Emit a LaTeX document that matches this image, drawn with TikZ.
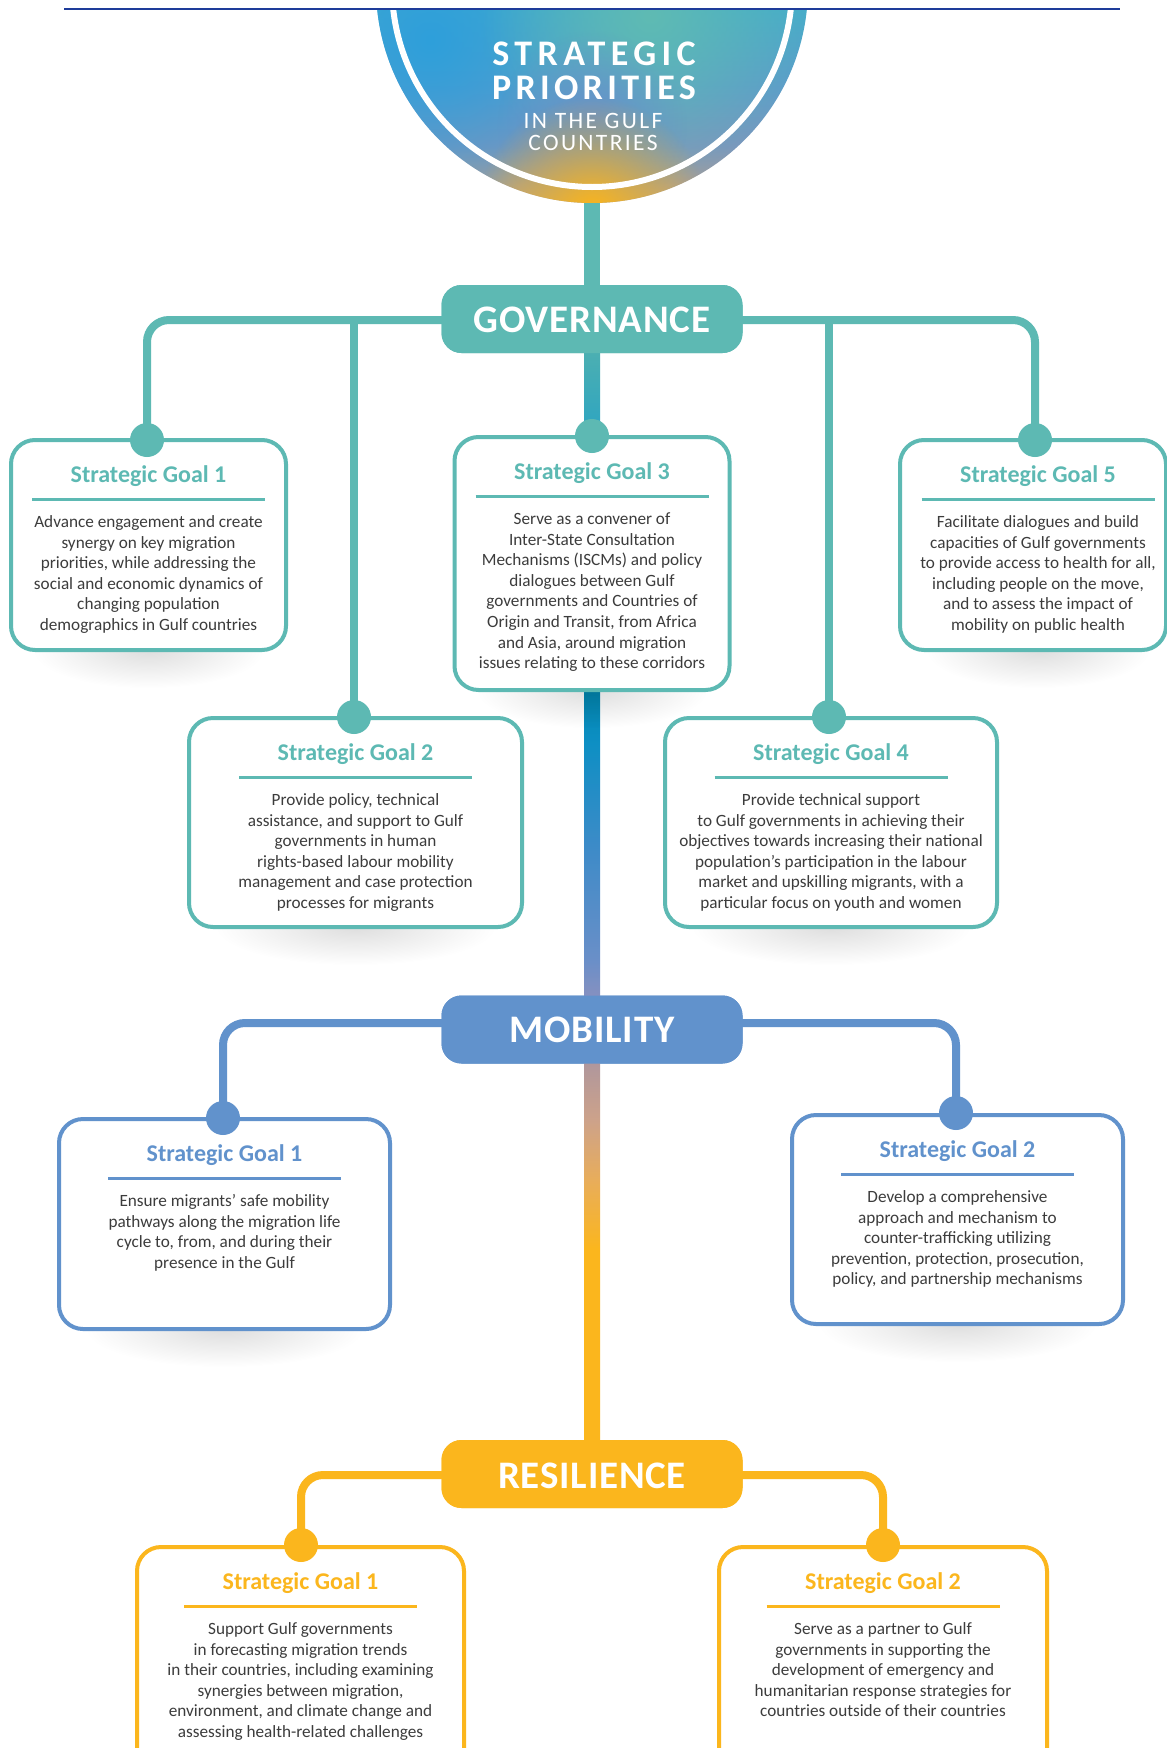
\documentclass[tikz,border=0pt]{standalone}
\usepackage{fontspec}
\setmainfont{Carlito}
\usetikzlibrary{fadings}
\definecolor{teal1}{HTML}{5DB9B3}
\definecolor{blue1}{HTML}{6192CC}
\definecolor{gold1}{HTML}{FBB61D}
\definecolor{bodyc}{HTML}{3C3C3C}
\definecolor{topline}{HTML}{1E3C9A}
\definecolor{dA}{HTML}{B5A38A}
\definecolor{dB}{HTML}{7C96BE}
\definecolor{dC}{HTML}{5E9BCB}
\definecolor{dD}{HTML}{45ABCB}
\definecolor{gBlue}{HTML}{2E9FDB}
\definecolor{gTeal}{HTML}{5FBBB3}
\definecolor{gMid}{HTML}{6690CC}
\definecolor{gOr}{HTML}{FBB51A}
\definecolor{sB1}{HTML}{2CA4C2}
\definecolor{sB2}{HTML}{4BAFB2}
\definecolor{sC1}{HTML}{8590C0}
\definecolor{sC2}{HTML}{6A8FC8}
\definecolor{sC3}{HTML}{3E8BC8}
\definecolor{sC4}{HTML}{0E8FC4}
\definecolor{sC5}{HTML}{0086AE}
\definecolor{sD2}{HTML}{E8AD5B}
\definecolor{sD3}{HTML}{CDA28A}
\definecolor{sD4}{HTML}{B0979C}
\tikzfading[name=glowfade, inner color=transparent!0, outer color=transparent!100]
\tikzfading[name=shadowfade, inner color=transparent!87, outer color=transparent!100]
\pgfdeclareverticalshading{discshade}{100bp}{color(0bp)=(dA);color(25bp)=(dA);color(40bp)=(dB);color(55bp)=(dC);color(75bp)=(dD);color(100bp)=(dD)}
\pgfdeclareverticalshading{stemB}{100bp}{color(0bp)=(sB1);color(25bp)=(sB1);color(75bp)=(sB2);color(100bp)=(sB2)}
\pgfdeclareverticalshading{stemC}{100bp}{color(0bp)=(sC1);color(25bp)=(sC1);color(30.7bp)=(sC2);color(48.6bp)=(sC3);color(65.7bp)=(sC4);color(75bp)=(sC5);color(100bp)=(sC5)}
\pgfdeclareverticalshading{stemD}{100bp}{color(0bp)=(gold1);color(50.3bp)=(gold1);color(59.6bp)=(sD2);color(67.5bp)=(sD3);color(75bp)=(sD4);color(100bp)=(sD4)}
\tikzset{
  goalbox/.style={draw=#1, line width=4pt, fill=white, rounded corners=24pt, inner sep=0},
  conn/.style={draw=#1, line width=8pt, rounded corners=22pt},
  dotnode/.style={circle, fill=#1, minimum size=34pt, inner sep=0},
  pillar/.style={fill=#1, rounded corners=20pt, minimum width=301pt, minimum height=68pt, inner sep=0},
  pillartext/.style={text=white, inner sep=0, font=\fontsize{39}{39}\selectfont\bfseries\addfontfeatures{LetterSpace=2}},
  gtitle/.style={anchor=base, inner sep=0, text=#1, font=\fontsize{24}{24}\selectfont\bfseries},
  gbody/.style={anchor=base, inner sep=0, text=bodyc, font=\fontsize{17.2}{20.6}\selectfont},
  ctitle/.style={anchor=base, inner sep=0, text=white},
}
% [#1 box x offset], #2 name, #3 colour, #4 centre x, #5 top y, #6 width, #7 height, #8 title, #9 body
\newcommand\goalitem[9][0]{%
  \fill[black, path fading=shadowfade] (#4,#5+#7+2) ellipse ({#6*0.42} and 38);
  \node[goalbox=#3, minimum width=#6pt, minimum height=#7pt, anchor=north] (#2) at (#4+#1,#5) {};
  \node[gtitle=#3] (#2t) at (#4,#5+44) {#8};
  \draw[#3, line width=3pt] (#4-116.5,#5+61) -- (#4+116.5,#5+61);
  \node[gbody] (#2b) at (#4,#5+89.5) {\parbox[t]{360pt}{\centering\baselineskip=20.6pt #9}};
}
\begin{document}
\begin{tikzpicture}[x=1pt,y=-1pt]
\clip (0,0) rectangle (1167,1748);
\fill[white] (0,0) rectangle (1167,1748);

% ---- title disc ----
\coordinate (circbot) at (592,203);
\begin{scope}
  \clip (592,-13) circle (216);
  \clip (0,10) rectangle (1167,260);
  \shade[shading=discshade] (370,10) rectangle (814,204);
  \fill[color=gBlue, path fading=glowfade] (430,40) circle (170);
  \fill[color=gTeal, path fading=glowfade] (650,15) circle (170);
  \fill[color=gMid, path fading=glowfade] (592,125) circle (95);
  \fill[color=gOr, path fading=glowfade] (592,212) circle (115);
  \draw[white, line width=6pt] (592,-13) circle (200);
\end{scope}
\node[ctitle, font=\fontsize{36}{36}\selectfont\bfseries\addfontfeatures{LetterSpace=15}] (t1) at (594,65) {STRATEGIC};
\node[ctitle, font=\fontsize{36}{36}\selectfont\bfseries\addfontfeatures{LetterSpace=12}] (t2) at (594,99) {PRIORITIES};
\node[ctitle, font=\fontsize{23.5}{23.5}\selectfont\addfontfeatures{LetterSpace=10}] (t3) at (593,128.5) {IN THE GULF};
\node[ctitle, font=\fontsize{23.5}{23.5}\selectfont\addfontfeatures{LetterSpace=10}] (t4) at (593,150.5) {COUNTRIES};

% ---- pillar positions ----
\path (592,319) node[pillar=teal1, draw=none] (gov) {}
      (592,1029.5) node[pillar=blue1, draw=none] (mob) {}
      (592,1474) node[pillar=gold1, draw=none] (res) {};

% ---- dots (positions) ----
\path (147,440) coordinate (gd1) (354,717) coordinate (gd2) (592,436) coordinate (gd3)
      (829,717) coordinate (gd4) (1035,440) coordinate (gd5)
      (223,1118) coordinate (md1) (956,1113) coordinate (md2)
      (301,1545) coordinate (rd1) (883,1545) coordinate (rd2);

% ---- stems ----
\fill[teal1] ([xshift=-8pt]circbot) rectangle ([xshift=8pt]gov.north);
\shade[shading=stemB] ([xshift=-8pt]gov.south) rectangle ([xshift=8pt]gd3);
\shade[shading=stemC] (584,686) rectangle ([xshift=8pt]mob.north);
\shade[shading=stemD] ([xshift=-8pt]mob.south) rectangle ([xshift=8pt]res.north);

% ---- connectors ----
\draw[conn=teal1] ([yshift=-1pt]gov.center) -| (gd1);
\draw[conn=teal1] ([yshift=-1pt]gov.center) -| (gd5);
\draw[conn=teal1] (gd2 |- gov.center) -- (gd2);
\draw[conn=teal1] (gd4 |- gov.center) -- (gd4);
\draw[conn=blue1] ([yshift=6.5pt]mob.center) -| (md1);
\draw[conn=blue1] ([yshift=6.5pt]mob.center) -| (md2);
\draw[conn=gold1] ([yshift=-1pt]res.center) -| (rd1);
\draw[conn=gold1] ([yshift=-1pt]res.center) -| (rd2);

% ---- pillars ----
\node[pillar=teal1] at (gov) {};
\node[pillartext] at (592,320) {GOVERNANCE};
\node[pillar=blue1] at (mob) {};
\node[pillartext] at (592,1030) {MOBILITY};
\node[pillar=gold1] at (res) {};
\node[pillartext] at (592,1476) {RESILIENCE};

% ---- goal boxes ----
\goalitem{g1}{teal1}{148.5}{438}{275}{210}{Strategic Goal 1}{Advance engagement and create\\synergy on key migration\\priorities, while addressing the\\social and economic dynamics of\\changing population\\demographics in Gulf countries}
\goalitem{g2}{teal1}{355.5}{716}{333}{209}{Strategic Goal 2}{Provide policy, technical\\assistance, and support to Gulf\\governments in human\\rights-based labour mobility\\management and case protection\\processes for migrants}
\goalitem{g3}{teal1}{592}{435}{275}{253}{Strategic Goal 3}{Serve as a convener of\\Inter-State Consultation\\Mechanisms (ISCMs) and policy\\dialogues between Gulf\\governments and Countries of\\Origin and Transit, from Africa\\and Asia, around migration\\issues relating to these corridors}
\goalitem{g4}{teal1}{831}{716}{332}{209}{Strategic Goal 4}{Provide technical support\\to Gulf governments in achieving their\\objectives towards increasing their national\\population’s participation in the labour\\market and upskilling migrants, with a\\particular focus on youth and women}
\goalitem[-5]{g5}{teal1}{1038}{438}{266}{210}{Strategic Goal 5}{Facilitate dialogues and build\\capacities of Gulf governments\\to provide access to health for all,\\including people on the move,\\and to assess the impact of\\mobility on public health}
\goalitem{m1}{blue1}{224.5}{1117}{331}{210}{Strategic Goal 1}{Ensure migrants’ safe mobility\\pathways along the migration life\\cycle to, from, and during their\\presence in the Gulf}
\goalitem{m2}{blue1}{957.5}{1113}{331}{209}{Strategic Goal 2}{Develop a comprehensive\\approach and mechanism to\\counter-trafficking utilizing\\prevention, protection, prosecution,\\policy, and partnership mechanisms}
\goalitem{r1}{gold1}{300.5}{1545}{327}{240}{Strategic Goal 1}{Support Gulf governments\\in forecasting migration trends\\in their countries, including examining\\synergies between migration,\\environment, and climate change and\\assessing health-related challenges}
\goalitem{r2}{gold1}{883}{1545}{328}{240}{Strategic Goal 2}{Serve as a partner to Gulf\\governments in supporting the\\development of emergency and\\humanitarian response strategies for\\countries outside of their countries}

% ---- dots ----
\foreach \d in {gd1,gd2,gd3,gd4,gd5} \node[dotnode=teal1] at (\d) {};
\foreach \d in {md1,md2} \node[dotnode=blue1] at (\d) {};
\foreach \d in {rd1,rd2} \node[dotnode=gold1] at (\d) {};

% ---- top rule ----
\draw[topline, line width=2.5pt] (64,9) -- (1120,9);
\end{tikzpicture}
\end{document}
